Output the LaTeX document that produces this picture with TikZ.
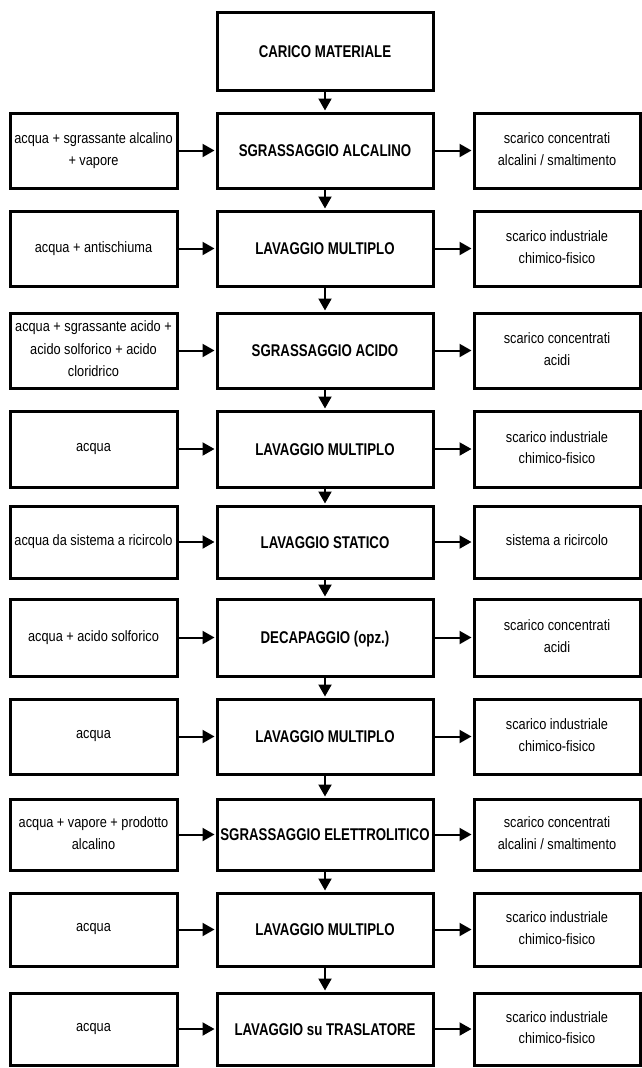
\documentclass[tikz,border=0pt]{standalone}
\usepackage{fontspec}
\setmainfont{Liberation Sans}[FakeStretch=0.85]
\newfontfamily\bfam{Liberation Sans}[FakeStretch=0.78]
\usetikzlibrary{arrows.meta}
\newcommand\zstrut{\rule[-3pt]{0pt}{11pt}}
\tikzset{
  box/.style={draw, line width=3pt, inner sep=0pt},
  proc/.style={box, minimum width=216pt, text height=12.2pt, text depth=0pt,
    font=\bfam\bfseries\fontsize{17}{20}\selectfont},
  lside/.style={box, align=center, minimum width=167pt,
    font=\fontsize{15}{22.5}\selectfont,
    execute at begin node=\zstrut, execute at end node=\zstrut},
  rside/.style={box, align=center, minimum width=166pt,
    font=\fontsize{15}{21.5}\selectfont,
    execute at begin node=\zstrut, execute at end node=\zstrut},
  arr/.style={line width=2pt, -{Triangle[length=12pt,width=13pt]}, shorten >=1pt}
}
\begin{document}
\begin{tikzpicture}[x=1pt,y=-1pt]
\useasboundingbox (0,0) rectangle (642,1068);
% centre column
\node[proc, minimum height=78pt] (c0) at (325,51) {CARICO MATERIALE};
\node[proc, minimum height=75pt] (c1) at (325,150.5) {SGRASSAGGIO ALCALINO};
\node[proc, minimum height=75pt] (c2) at (325,248.5) {LAVAGGIO MULTIPLO};
\node[proc, minimum height=75pt] (c3) at (325,350.5) {SGRASSAGGIO ACIDO};
\node[proc, minimum height=76pt] (c4) at (325,449) {LAVAGGIO MULTIPLO};
\node[proc, minimum height=72pt] (c5) at (325,542) {LAVAGGIO STATICO};
\node[proc, minimum height=77pt] (c6) at (325,637.5) {DECAPAGGIO (opz.)};
\node[proc, minimum height=75pt] (c7) at (325,736.5) {LAVAGGIO MULTIPLO};
\node[proc, minimum height=71pt] (c8) at (325,834.5) {SGRASSAGGIO ELETTROLITICO};
\node[proc, minimum height=73pt] (c9) at (325,929.5) {LAVAGGIO MULTIPLO};
\node[proc, minimum height=72pt] (c10) at (325,1029) {LAVAGGIO su TRASLATORE};
% left column
\node[lside, minimum height=75pt] (l1) at (93.5,150.5) {acqua + sgrassante alcalino\\+ vapore};
\node[lside, minimum height=75pt] (l2) at (93.5,248.5) {acqua + antischiuma};
\node[lside, minimum height=75pt] (l3) at (93.5,350.5) {acqua + sgrassante acido +\\acido solforico + acido\\cloridrico};
\node[lside, minimum height=76pt] (l4) at (93.5,449) {acqua};
\node[lside, minimum height=72pt] (l5) at (93.5,542) {acqua da sistema a ricircolo};
\node[lside, minimum height=77pt] (l6) at (93.5,637.5) {acqua + acido solforico};
\node[lside, minimum height=75pt] (l7) at (93.5,736.5) {acqua};
\node[lside, minimum height=71pt] (l8) at (93.5,834.5) {acqua + vapore + prodotto\\alcalino};
\node[lside, minimum height=73pt] (l9) at (93.5,929.5) {acqua};
\node[lside, minimum height=72pt] (l10) at (93.5,1029) {acqua};
% right column
\node[rside, minimum height=75pt] (r1) at (557,150.5) {scarico concentrati\\alcalini / smaltimento};
\node[rside, minimum height=75pt] (r2) at (557,248.5) {scarico industriale\\chimico-fisico};
\node[rside, minimum height=75pt] (r3) at (557,350.5) {scarico concentrati\\acidi};
\node[rside, minimum height=76pt] (r4) at (557,449) {scarico industriale\\chimico-fisico};
\node[rside, minimum height=72pt] (r5) at (557,542) {sistema a ricircolo};
\node[rside, minimum height=77pt] (r6) at (557,637.5) {scarico concentrati\\acidi};
\node[rside, minimum height=75pt] (r7) at (557,736.5) {scarico industriale\\chimico-fisico};
\node[rside, minimum height=71pt] (r8) at (557,834.5) {scarico concentrati\\alcalini / smaltimento};
\node[rside, minimum height=73pt] (r9) at (557,929.5) {scarico industriale\\chimico-fisico};
\node[rside, minimum height=72pt] (r10) at (557,1029) {scarico industriale\\chimico-fisico};
% vertical flow
\foreach \a/\b in {c0/c1,c1/c2,c2/c3,c3/c4,c4/c5,c5/c6,c6/c7,c7/c8,c8/c9,c9/c10}
  \draw[arr] (\a.south) -- (\b.north);
% side flows
\foreach \i in {1,...,10}{
  \draw[arr] (l\i.east) -- (c\i.west);
  \draw[arr] (c\i.east) -- (r\i.west);
}
\end{tikzpicture}
\end{document}
